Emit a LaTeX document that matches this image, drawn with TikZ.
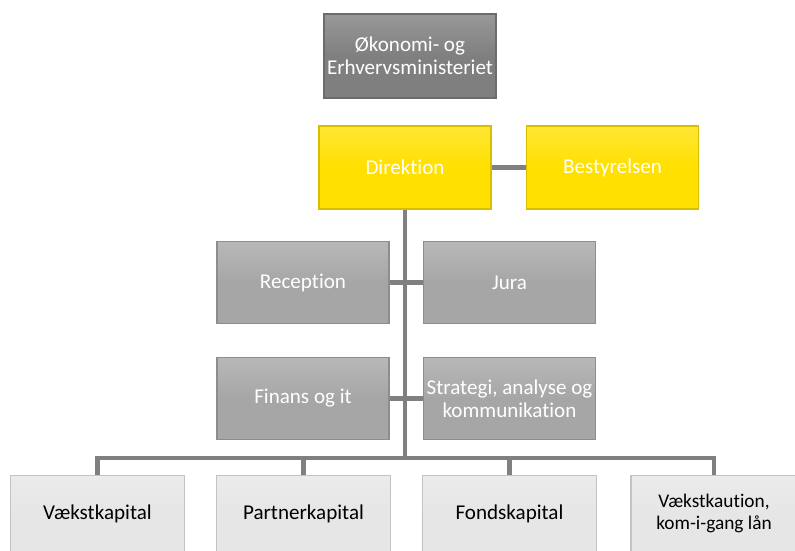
\documentclass[tikz,border=0pt]{standalone}
\usepackage{fontspec}
\setmainfont{Carlito}[Ligatures=NoCommon]
\usetikzlibrary{calc,positioning}

\definecolor{darkbox}{HTML}{7F7F7F}
\definecolor{yellowbox}{HTML}{FFE000}
\definecolor{midbox}{HTML}{A6A6A6}
\definecolor{lightbox}{HTML}{E6E6E6}
\definecolor{linegray}{HTML}{808080}

\begin{document}
\begin{tikzpicture}[
        x=0.02cm, y=-0.02cm,
        unit/.style={
            rectangle, inner sep=1pt,
            align=center, font=\fontsize{12}{13.2}\selectfont,
            text=white, draw=#1!85!black, line width=0.6pt,
            top color=#1!80!white, bottom color=#1, middle color=#1
        },
        topunit/.style={unit=darkbox, minimum width=172*0.02cm, minimum height=84*0.02cm},
        boss/.style={unit=yellowbox, minimum width=172*0.02cm, minimum height=83*0.02cm},
        staff/.style={unit=midbox, minimum width=172*0.02cm, minimum height=82*0.02cm},
        area/.style={unit=lightbox, text=black, minimum width=174*0.02cm, minimum height=76*0.02cm},
        link/.style={draw=linegray, line width=2.8pt}
      ]
  \useasboundingbox (0,0) rectangle (795,551);

  \node[topunit] (oem) at (410,56) {Økonomi- og\\Erhvervsministeriet};

  \node[boss] (dir) at (405,167.5) {Direktion};
  \node[boss] (best) at (612.5,167.5) {Bestyrelsen};

  \node[staff] (rec) at (303,282.5) {Reception};
  \node[staff] (jura) at (509.5,282.5) {Jura};
  \node[staff] (fin) at (303,398.5) {Finans og it};
  \node[staff] (strat) at (509.5,398.5) {Strategi, analyse og\\kommunikation};

  \node[area] (vk) at (97.5,513.5) {Vækstkapital};
  \node[area] (pk) at (303.5,513.5) {Partnerkapital};
  \node[area] (fk) at (509.5,513.5) {Fondskapital};
  \node[area, minimum width=166*0.02cm, font=\fontsize{11}{12.5}\selectfont] (kaut) at (714,513.5) {Vækstkaution,\\kom-i-gang lån};

  \coordinate (bar) at (405,458);

  \path[link] (dir.east) -- (best.west);
  \path[link] (dir.south) -- (bar);
  \path[link] (rec.east) -- (jura.west);
  \path[link] (fin.east) -- (strat.west);
  \path[link] (vk.north) |- (bar) -| (kaut.north);
  \path[link] (pk.north) -- (pk.north |- bar);
  \path[link] (fk.north) -- (fk.north |- bar);
\end{tikzpicture}
\end{document}
